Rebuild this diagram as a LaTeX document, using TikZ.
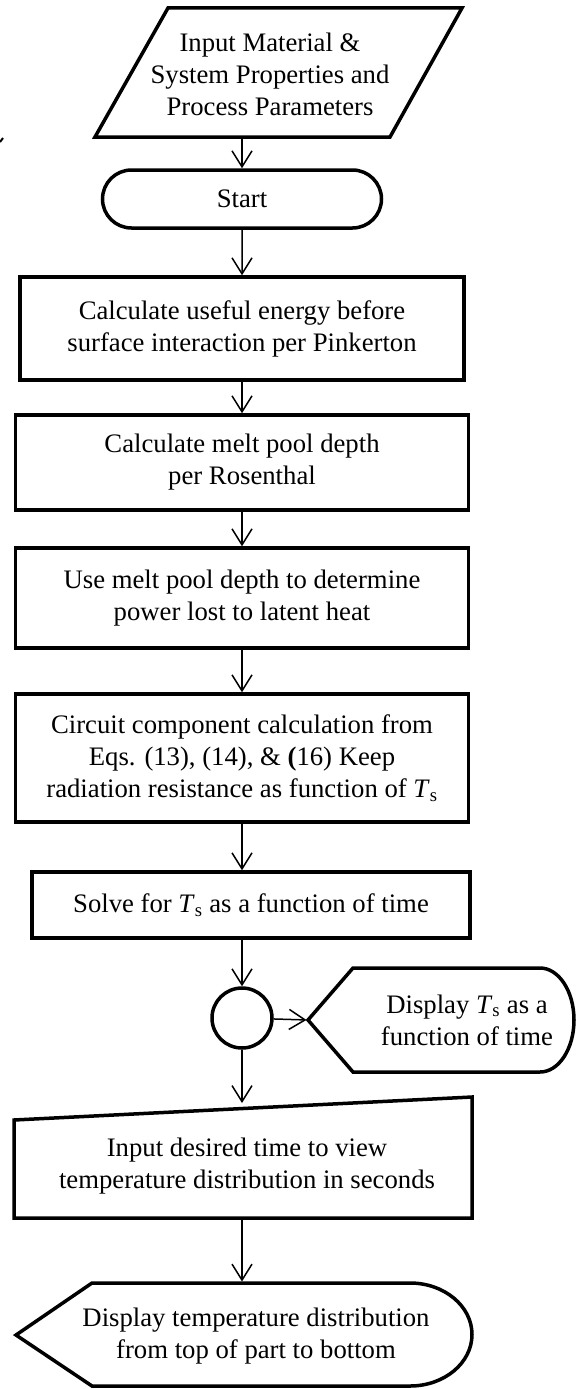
\documentclass[tikz,border=0pt]{standalone}
\usepackage{fontspec}
\setmainfont{Liberation Serif}
\usetikzlibrary{arrows.meta,shapes.misc}
\newcommand{\Tsurf}{\textit{T}\textsubscript{s}}

\begin{document}
\begin{tikzpicture}[x=1pt,y=-1pt,
  label/.style={align=center,inner sep=0pt,font=\fontsize{26.7}{32}\selectfont},
  procbox/.style={label,draw,line width=3.5pt},
  outline/.style={line width=3.5pt,line join=miter},
  flow/.style={line width=1.5pt,-{Straight Barb[length=16pt,width=20pt]}}]
\useasboundingbox (0,0) rectangle (576,1389);

% Ingresso dati
\draw[outline] (168,8) -- (462,8) -- (390,137) -- (95,137) -- cycle;
\node[label] (input) at (270,74) {Input Material \&\\System Properties and\\Process Parameters};
\coordinate (input-s) at (242,137);
\draw[line width=2pt] (0,142) -- (3,138);

% Start
\node[label,draw,line width=3.5pt,rounded rectangle,minimum width=279pt,minimum height=58pt] (start) at (242,199) {Start};

% Blocchi di calcolo
\node[procbox,minimum width=444pt,minimum height=103pt] (useful) at (242,328.5)
  {Calculate useful energy before\\surface interaction per Pinkerton};
\node[procbox,minimum width=453pt,minimum height=95pt] (rosenthal) at (242,462.5)
  {Calculate melt pool depth\\per Rosenthal};
\node[procbox,minimum width=453pt,minimum height=100pt] (latent) at (242,598)
  {Use melt pool depth to determine\\power lost to latent heat};
\node[procbox,minimum width=453pt,minimum height=128pt] (circuit) at (242,758)
  {Circuit component calculation from\\Eqs. (13), (14), \& \textbf{(}16) Keep\\radiation resistance as function of \Tsurf};
\node[procbox,minimum width=438pt,minimum height=66pt] (solve) at (251,905)
  {Solve for \Tsurf{} as a function of time};

% Connettore
\node[draw,circle,line width=3.5pt,minimum size=60pt,inner sep=0pt] (conn) at (242,1018) {};

% Display T_s
\draw[outline] (308,1020) -- (353,968) -- (540,968)
  arc[start angle=-90,end angle=90,x radius=34,y radius=52] -- (353,1072) -- cycle;
\node[label] (showTs) at (467,1020) {Display \Tsurf{} as a\\function of time};
\coordinate (showTs-w) at (308,1020);

% Input manuale
\draw[outline] (14,1120) -- (472,1097) -- (472,1218) -- (14,1218) -- cycle;
\node[label] (timein) at (247,1166) {Input desired time to view\\temperature distribution in seconds};
\coordinate (timein-n) at (242,1104.5);
\coordinate (timein-s) at (242,1218);

% Display distribuzione
\draw[outline] (16,1335) -- (92,1283) -- (410,1283)
  arc[start angle=-90,end angle=90,x radius=62,y radius=51.5] -- (92,1386) -- cycle;
\node[label] (showdist) at (256,1336) {Display temperature distribution\\from top of part to bottom};
\coordinate (showdist-n) at (242,1283);

% Frecce
\draw[flow,shorten <=1.5pt] (input-s) -- (start);
\draw[flow] (start) -- (useful);
\draw[flow] (useful) -- (rosenthal);
\draw[flow] (rosenthal) -- (latent);
\draw[flow] (latent) -- (circuit);
\draw[flow] (circuit.south -| conn) -- (solve.north -| conn);
\draw[flow] (solve.south -| conn) -- (conn);
\draw[flow,shorten >=1.5pt] (conn) -- (showTs-w);
\draw[flow,shorten >=1.5pt] (conn) -- (timein-n);
\draw[flow,shorten <=1.5pt,shorten >=1.5pt] (timein-s) -- (showdist-n);
\end{tikzpicture}
\end{document}
